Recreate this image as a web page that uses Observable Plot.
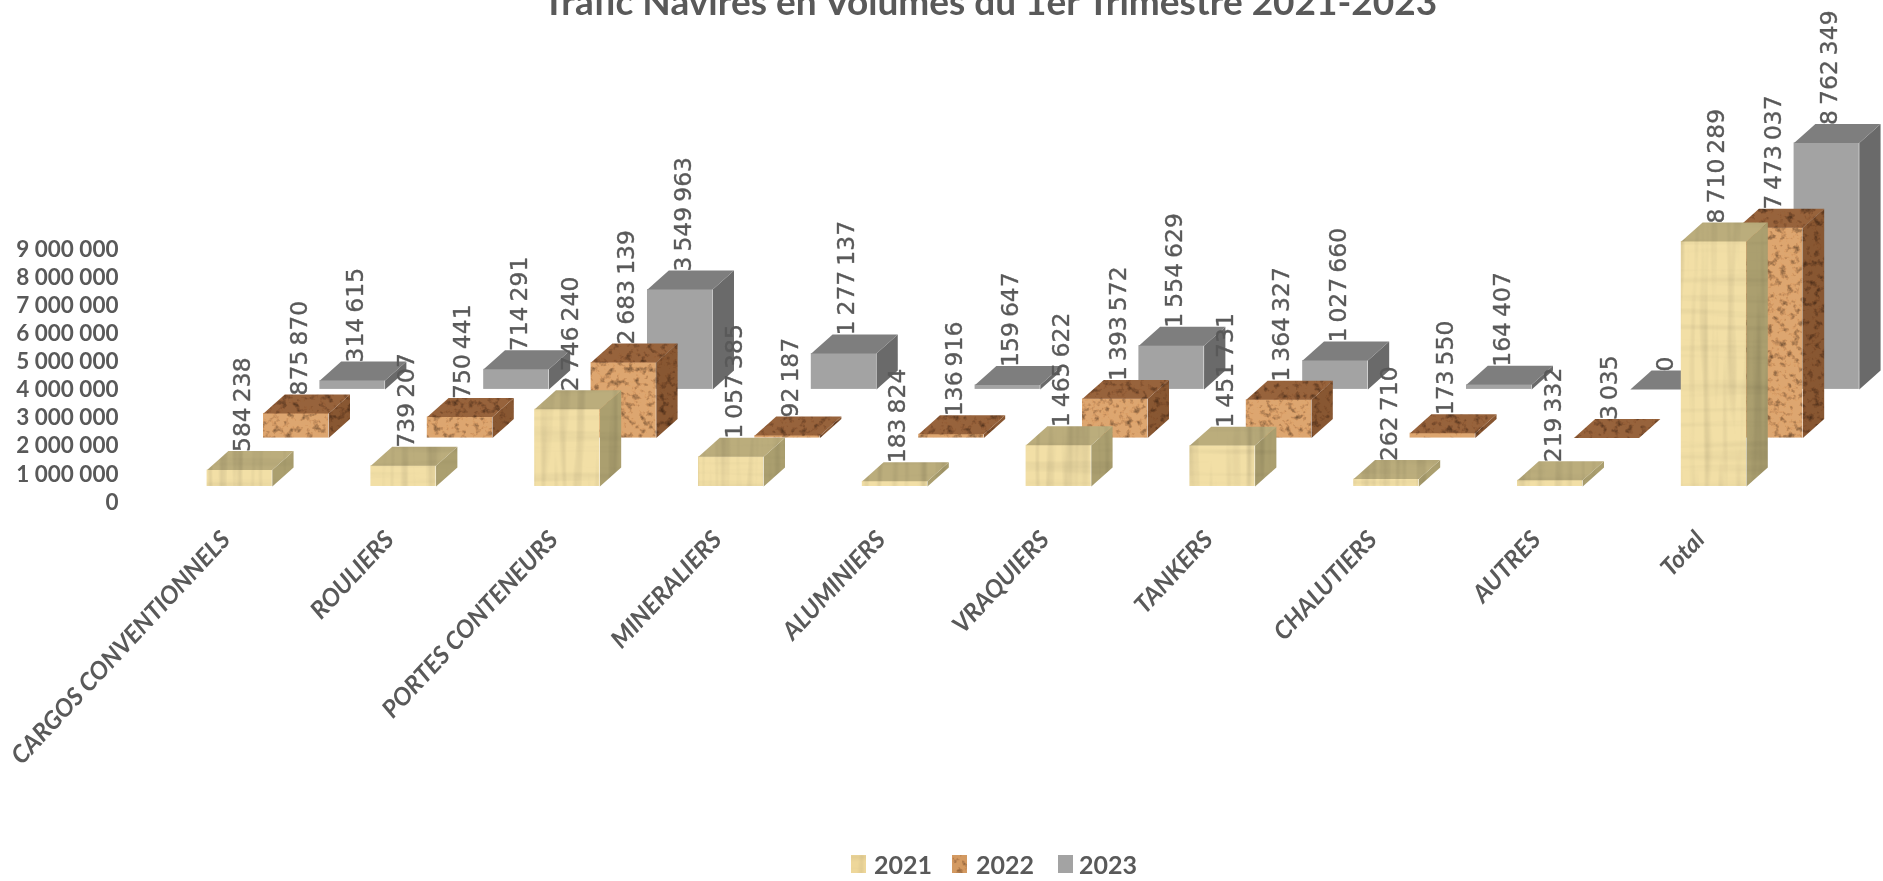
<!DOCTYPE html>
<html lang="fr">
<head>
<meta charset="utf-8">
<script src="https://cdn.jsdelivr.net/npm/d3@7"></script>
<script src="https://cdn.jsdelivr.net/npm/@observablehq/plot@0.6"></script>
<style>
html,body{margin:0;padding:0;background:#fff;overflow:hidden;width:1883px;height:881px}
#chart{position:absolute;left:0;top:0}
#chart svg{display:block;filter:blur(.65px)}
#title{position:absolute;left:0;width:1980px;top:-17px;text-align:center;font:700 37px/36px Lato,sans-serif;color:#595959;white-space:nowrap;filter:blur(.6px)}
#legend{position:absolute;top:0;left:0;font:700 25px/25px Lato,sans-serif;color:#595959;filter:blur(.6px)}
#legend span{position:absolute;top:852px}
#legend i{position:absolute;top:855px;width:15px;height:18px}
.tex-2021,#s2021{filter:url(#papyrus)}
.tex-2022,#s2022{filter:url(#cork)}
.vals text{word-spacing:-2.5px}
</style>
</head>
<body>
<svg width="0" height="0" style="position:absolute">
  <defs>
    <filter id="papyrus" filterUnits="userSpaceOnUse" x="0" y="0" width="1883" height="881" color-interpolation-filters="sRGB">
      <feTurbulence type="fractalNoise" baseFrequency="0.11 0.006" numOctaves="2" seed="4" result="a"/>
      <feColorMatrix in="a" type="matrix" values=".28 0 0 0 .85  .28 0 0 0 .85  .28 0 0 0 .85  0 0 0 0 1" result="ga"/>
      <feTurbulence type="fractalNoise" baseFrequency="0.006 0.13" numOctaves="2" seed="9" result="b"/>
      <feColorMatrix in="b" type="matrix" values=".14 0 0 0 .93  .14 0 0 0 .93  .14 0 0 0 .93  0 0 0 0 1" result="gb"/>
      <feComposite in="ga" in2="gb" operator="arithmetic" k1="1" result="g"/>
      <feComposite in="SourceGraphic" in2="g" operator="arithmetic" k1="1"/>
    </filter>
    <filter id="cork" filterUnits="userSpaceOnUse" x="0" y="0" width="1883" height="881" color-interpolation-filters="sRGB">
      <feTurbulence type="fractalNoise" baseFrequency="0.15" numOctaves="3" seed="7" result="a"/>
      <feColorMatrix in="a" type="matrix" values="1.25 0 0 0 .40  1.25 0 0 0 .37  1.25 0 0 0 .34  0 0 0 0 1" result="g"/>
      <feComposite in="SourceGraphic" in2="g" operator="arithmetic" k1="1"/>
    </filter>
  </defs>
</svg>
<div id="chart"></div>
<div id="title">Trafic Navires en Volumes du 1er Trimestre 2021-2023</div>
<div id="legend"></div>
<script>
const categories = ["CARGOS CONVENTIONNELS","ROULIERS","PORTES CONTENEURS","MINERALIERS","ALUMINIERS","VRAQUIERS","TANKERS","CHALUTIERS","AUTRES","Total"];
const years = ["2021","2022","2023"];
const v2021 = [584238,739207,2746240,1057385,183824,1465622,1451731,262710,219332,8710289];
const v2022 = [875870,750441,2683139,92187,136916,1393572,1364327,173550,3035,7473037];
const v2023 = [314615,714291,3549963,1277137,159647,1554629,1027660,164407,0,8762349];
const yTicks = [0,1e6,2e6,3e6,4e6,5e6,6e6,7e6,8e6,9e6];
const seriesValues = {2021:v2021,2022:v2022,2023:v2023};

// pseudo-3D layout, in scale units (category step on x, tonnes on y)
const barWidth = 0.398, yearStep = 0.3443, depthX = 0.13, depthY = 675000;
const floors = {2021:570000,2022:2290000,2023:4020000};
const faceColors = {
  2021:{front:"#f2dfa6",top:"#bbad7c",side:"#ab9f6f"},
  2022:{front:"#dda670",top:"#97633c",side:"#885732"},
  2023:{front:"#a3a3a3",top:"#7e7e7e",side:"#6a6a6a"}
};
const fmt = d => d3.format(",")(d).replace(/,/g," ");
const tagged = cls => function(index, scales, values, dimensions, context, next) {
  const g = next(index, scales, values, dimensions, context);
  g.setAttribute("class", cls);
  return g;
};

const barsOf = (yr, k) => seriesValues[yr].map((v,i) => {
  const x1 = i + k*yearStep, x2 = x1 + barWidth, y0 = floors[yr], y1 = y0 + v;
  return {id:i, v, x1, x2, y0, y1, mid:(x1+x2)/2};
});
const poly = (bars, f) => bars.flatMap(b => f(b).map(([x,y]) => ({id:b.id,x,y})));
const topFace = b => [[b.x1,b.y1],[b.x2,b.y1],[b.x2+depthX,b.y1+depthY],[b.x1+depthX,b.y1+depthY]];
const sideFace = b => [[b.x2,b.y0],[b.x2,b.y1],[b.x2+depthX,b.y1+depthY],[b.x2+depthX,b.y0+depthY]];

const marks = [];
const labels = [];
[...years].reverse().forEach(yr => {
  const k = years.indexOf(yr), bars = barsOf(yr,k), c = faceColors[yr], cls = "tex-"+yr;
  marks.push(Plot.line(poly(bars,sideFace),{x:"x",y:"y",z:"id",fill:c.side,stroke:"none",curve:"linear-closed",render:tagged(cls)}));
  marks.push(Plot.rect(bars,{x1:"x1",x2:"x2",y1:"y0",y2:"y1",fill:c.front,render:tagged(cls)}));
  marks.push(Plot.line(poly(bars,topFace),{x:"x",y:"y",z:"id",fill:c.top,stroke:"none",curve:"linear-closed",render:tagged(cls)}));
  labels.push(Plot.text(bars,{x:"mid",y:d=>d.y1+depthY,text:d=>fmt(d.v),rotate:-90,textAnchor:"start",dx:3,dy:1,
    fontSize:23.5,fontFamily:"DejaVu Sans",fill:"#595959",stroke:"#595959",strokeWidth:0.35,render:tagged("vals")}));
});

const chart = Plot.plot({
  width:1883,height:881,marginLeft:118,marginTop:0,marginRight:0,marginBottom:0,
  style:{background:"transparent",overflow:"visible"},
  x:{domain:[0,1],range:[206.6,370.4],axis:null},
  y:{domain:[0,9e6],range:[502,248.8],axis:null},
  marks:[
    ...marks,
    ...labels,
    Plot.axisY({ticks:yTicks,tickSize:0,tickPadding:0,tickFormat:fmt,label:null,fontSize:22.5,fontFamily:"Lato",fontWeight:700,color:"#595959"}),
    Plot.text(categories,{x:(d,i)=>i+0.115,y:()=>-1170000,text:d=>d,rotate:-47,textAnchor:"end",
      fontSize:24.5,fontStyle:"italic",fontWeight:700,fontFamily:"Lato",fill:"#595959"})
  ]
});
document.getElementById("chart").append(chart);

const legendX = [[851,874],[952,976],[1058,1079]], swatch = ["#eed79a","#d39a62","#a3a3a3"];
const lg = document.getElementById("legend");
years.forEach((y,i)=>{
  lg.insertAdjacentHTML("beforeend",`<i id="s${y}" style="left:${legendX[i][0]}px;background:${swatch[i]}"></i><span style="left:${legendX[i][1]}px">${y}</span>`);
});
</script>
</body>
</html>
